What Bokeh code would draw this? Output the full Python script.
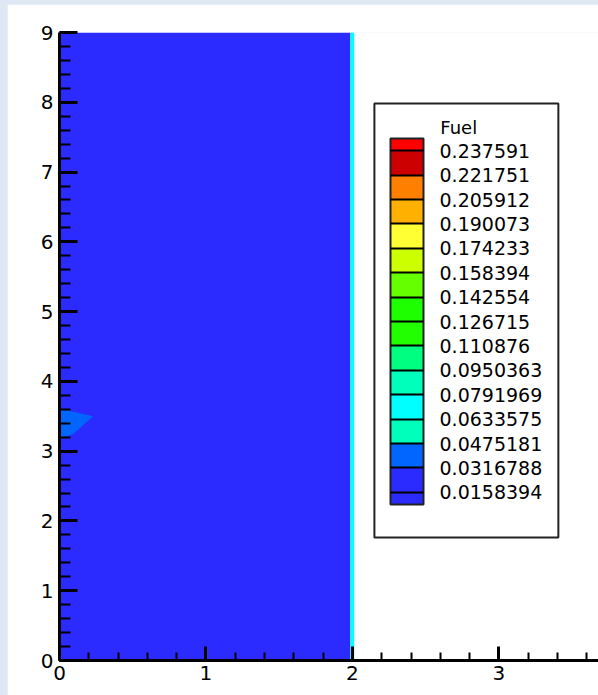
from bokeh.plotting import figure
from bokeh.layouts import column
from bokeh.models import (ColumnDataSource, LinearColorMapper, ColorBar, FixedTicker,
                          PrintfTickFormatter, SingleIntervalTicker, BoxAnnotation, Label)
from bokeh.embed import file_html
from bokeh.resources import INLINE

# Contour levels of the fuel mass fraction
fuel_levels = [0.0158394, 0.0316788, 0.0475181, 0.0633575, 0.0791969,
               0.0950363, 0.110876, 0.126715, 0.142554, 0.158394,
               0.174233, 0.190073, 0.205912, 0.221751, 0.237591]

# Flood colours, lowest band first
band_colors = ["#2b2bff", "#2b2bff", "#0066ff", "#00ffbb", "#00ffff", "#00ffbb",
               "#00ff80", "#22ff00", "#1eff00", "#66ff00", "#ccff00", "#ffff33",
               "#ffb000", "#ff8000", "#cc0000", "#ff0000"]

# Flooded regions of the domain: outline and fuel value in each
region_x = [[0.0, 1.986, 1.986, 0.0],
            [1.986, 2.012, 2.012, 1.986],
            [0.0, 0.02, 0.23, 0.09, 0.0]]
region_y = [[0.0, 0.0, 9.0, 9.0],
            [0.0, 0.0, 9.0, 9.0],
            [3.63, 3.60, 3.50, 3.24, 3.19]]
region_fuel = [0.008, 0.070, 0.040]

# The legend shows half a band below the lowest level and above the highest,
# so the palette is laid out in half-band steps between those limits.
step = fuel_levels[1] - fuel_levels[0]
half_palette = ([band_colors[0]]
                + [c for c in band_colors[1:-1] for _ in range(2)]
                + [band_colors[-1]])
mapper = LinearColorMapper(palette=half_palette,
                           low=fuel_levels[0] - step / 2,
                           high=fuel_levels[-1] + step / 2,
                           low_color=band_colors[0], high_color=band_colors[-1])

FONT = "DejaVu Sans"

p = figure(width=591, height=691, output_backend="svg", toolbar_location=None,
           x_range=(0, 3.68), y_range=(0, 9),
           min_border_left=52, min_border_right=0,
           min_border_top=28, min_border_bottom=35)
p.margin = (4, 0, 0, 7)
p.outline_line_color = None
p.background_fill_color = "white"
p.border_fill_color = "white"
p.xgrid.visible = False
p.ygrid.visible = False

src = ColumnDataSource(dict(xs=region_x, ys=region_y, fuel=region_fuel))
p.patches("xs", "ys", source=src,
          fill_color={"field": "fuel", "transform": mapper},
          line_color=None)

for ax in (p.xaxis[0], p.yaxis[0]):
    ax.ticker = SingleIntervalTicker(interval=1, num_minor_ticks=5)
    ax.axis_line_width = 3
    ax.axis_line_color = "black"
    ax.major_tick_out = 0
    ax.minor_tick_out = 0
    ax.major_tick_line_width = 3
    ax.minor_tick_line_width = 2
    ax.major_label_text_font = FONT
    ax.major_label_text_font_size = "20px"
    ax.major_label_text_color = "black"

p.yaxis.major_tick_in = 18
p.yaxis.minor_tick_in = 11
p.yaxis.major_label_standoff = 6
p.xaxis.major_tick_in = 14
p.xaxis.minor_tick_in = 8
p.xaxis.major_label_standoff = 5

# Legend frame
p.add_layout(BoxAnnotation(left=2.150, right=3.406, bottom=1.763, top=7.982,
                           fill_color="white", fill_alpha=1.0,
                           line_color="#222222", line_width=2, line_alpha=1.0))

cbar = ColorBar(color_mapper=mapper,
                ticker=FixedTicker(ticks=fuel_levels),
                formatter=PrintfTickFormatter(format="%.6g"),
                width=33, height=366, location=(331, 156), padding=0,
                bar_line_color="#222222", bar_line_width=2,
                major_tick_in=33, major_tick_out=0,
                major_tick_line_color="black", major_tick_line_width=2,
                minor_tick_line_color=None,
                label_standoff=16,
                major_label_text_font=FONT,
                major_label_text_font_size="19px",
                major_label_text_color="black",
                border_line_color=None, background_fill_alpha=0)
p.add_layout(cbar)

p.add_layout(Label(x=2.60, y=7.64, text="Fuel", text_font=FONT,
                   text_font_size="18px", text_baseline="middle",
                   text_color="black"))

page = column(p, styles={"background-color": "#dde8f4"})
open("out.html", "w").write(file_html(page, INLINE))
